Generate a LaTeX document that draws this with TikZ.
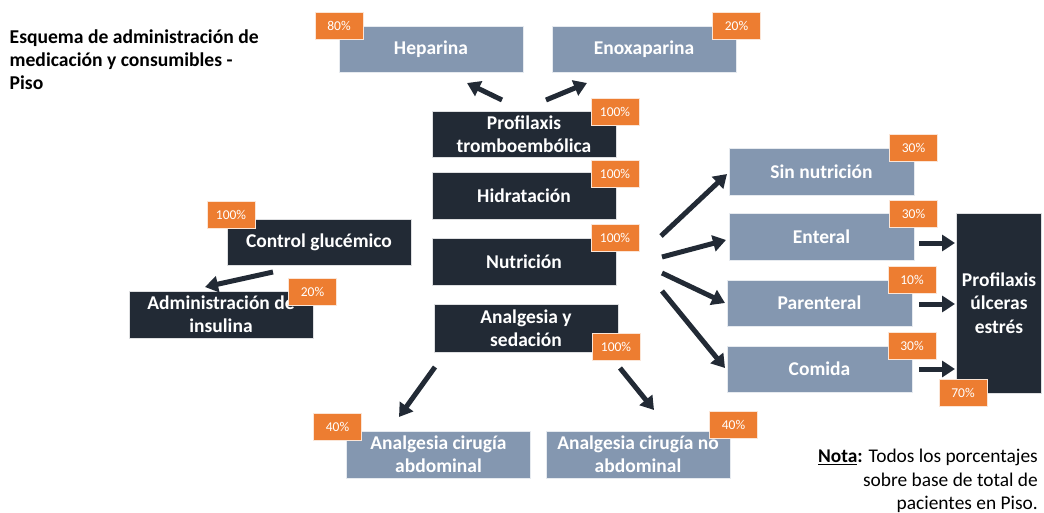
\documentclass[tikz,border=0pt]{standalone}
\usepackage{fontspec}
\setmainfont{Carlito}
\usetikzlibrary{arrows.meta}
\definecolor{navy}{HTML}{222A35}
\definecolor{slate}{HTML}{8497B0}
\definecolor{orng}{HTML}{ED7D31}
\tikzset{
  dbox/.style={fill=navy, draw=white!85!navy, line width=0.6pt, text=white, font=\bfseries\fontsize{19.5}{23.4}\selectfont, align=center, inner sep=0pt, minimum width=184pt, minimum height=46pt},
  lbox/.style={dbox, fill=slate, draw=white!80!slate},
  tag/.style={fill=orng, draw=white!80!orng, line width=0.5pt, text=white, font=\fontsize{13.5}{15}\selectfont, inner sep=0pt, minimum width=48pt, minimum height=27pt},
  arr/.style={draw=navy, line width=5pt, -{Triangle[length=13pt,width=16pt]}}
}
\begin{document}
\begin{tikzpicture}[x=1pt,y=-1pt]
\useasboundingbox (0,0) rectangle (1044,513);
% title
\node[anchor=west, align=left, font=\bfseries\fontsize{19.6}{23}\selectfont, inner sep=0pt] (title) at (9.5,60) {Esquema de administración de\\medicación y consumibles -\\Piso};
% boxes
\node[lbox] (hep) at (431,49.5) {Heparina};
\node[lbox] (enox) at (644,49.5) {Enoxaparina};
\node[dbox] (prof) at (524,134) {Profilaxis\\tromboembólica};
\node[dbox, minimum height=47pt] (hid) at (524,195.5) {Hidratación};
\node[dbox, minimum height=47pt] (nut) at (524,261.5) {Nutrición};
\node[dbox, minimum height=48pt] (anal) at (526,328) {Analgesia y\\sedación};
\node[dbox] (ctrl) at (319,242) {Control glucémico};
\node[dbox, minimum height=47pt] (ins) at (221,314.5) {Administración de\\insulina};
\node[lbox, minimum width=185pt, minimum height=47pt] (sin) at (821.5,171.5) {Sin nutrición};
\node[lbox, minimum width=185pt, minimum height=47pt] (ent) at (821.5,236.5) {Enteral};
\node[lbox, minimum width=185pt] (par) at (819.5,303) {Parenteral};
\node[lbox, minimum width=185pt] (com) at (819.5,369) {Comida};
\node[dbox, minimum width=85pt, minimum height=180pt] (ulc) at (999,303) {Profilaxis\\úlceras\\estrés};
\node[lbox, minimum height=47pt] (abd) at (438.5,454.5) {Analgesia cirugía\\abdominal};
\node[lbox, minimum height=47pt] (noabd) at (638,454.5) {Analgesia cirugía no\\abdominal};
% tags
\node[tag] (t80) at (339,25.5) {80\%};
\node[tag] (t20) at (736.5,25.5) {20\%};
\node[tag] (tprof) at (615,111.5) {100\%};
\node[tag] (thid) at (615,173.5) {100\%};
\node[tag] (tnut) at (615,238) {100\%};
\node[tag] (tanal) at (616,346.5) {100\%};
\node[tag] (tctrl) at (231,214.5) {100\%};
\node[tag] (tins) at (312.5,291.5) {20\%};
\node[tag] (tsin) at (913.5,148) {30\%};
\node[tag] (tent) at (913.5,213.5) {30\%};
\node[tag] (tpar) at (912,279.5) {10\%};
\node[tag] (tcom) at (912,346) {30\%};
\node[tag] (t70) at (963,393) {70\%};
\node[tag] (tabd) at (337.5,427) {40\%};
\node[tag] (tnoabd) at (733.5,424.5) {40\%};
% arrow end points
\coordinate (a1s) at (502,100); \coordinate (a1e) at (467,83);
\coordinate (a2s) at (546,100); \coordinate (a2e) at (587,83);
\coordinate (a3s) at (273,272); \coordinate (a3e) at (205,287);
\coordinate (a4s) at (661,236); \coordinate (a4e) at (727,174);
\coordinate (a5s) at (662,257); \coordinate (a5e) at (726,240);
\coordinate (a6s) at (662,273); \coordinate (a6e) at (725,303);
\coordinate (a7s) at (662,291); \coordinate (a7e) at (725,368);
\coordinate (a8s) at (435,367); \coordinate (a8e) at (399,417);
\coordinate (a9s) at (620,368); \coordinate (a9e) at (654,410);
\coordinate (a10s) at (919,243); \coordinate (a10e) at (955,243);
\coordinate (a11s) at (919,304); \coordinate (a11e) at (955,304);
\coordinate (a12s) at (919,369); \coordinate (a12e) at (955,369);
\foreach \i in {1,...,12} {\draw[arr] (a\i s) -- (a\i e);}
% note
\node[anchor=east, align=right, font=\fontsize{19.4}{23.5}\selectfont, inner sep=0pt] (nota) at (1038,481) {\textbf{\underline{Nota}:} Todos los porcentajes\\sobre base de total de\\pacientes en Piso.};
\end{tikzpicture}
\end{document}
